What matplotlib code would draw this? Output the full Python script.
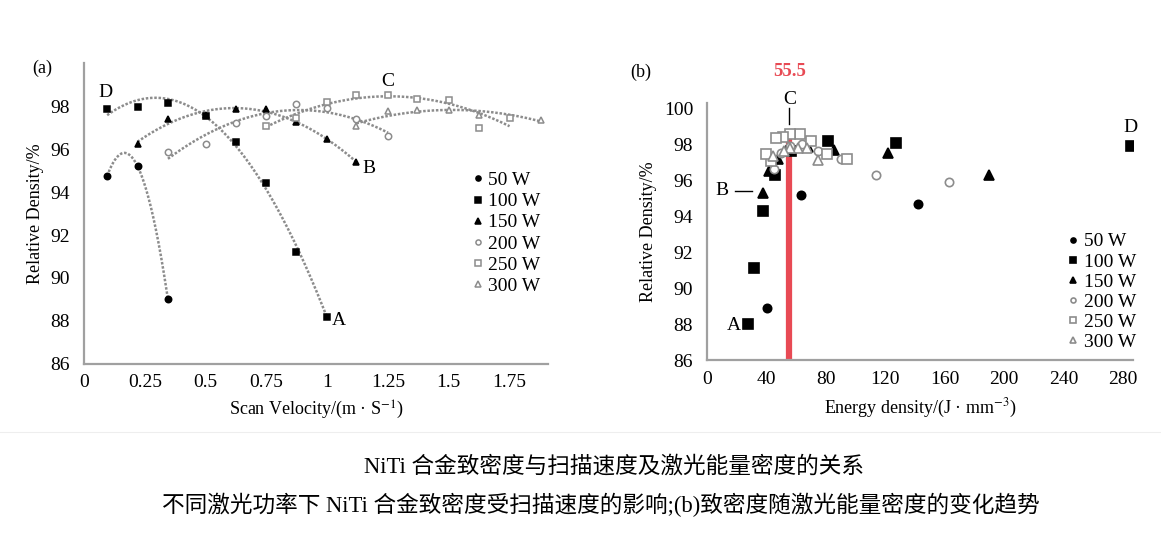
import numpy as np
import matplotlib
matplotlib.use("Agg")
import matplotlib.pyplot as plt
from matplotlib.lines import Line2D

plt.rcParams['font.family'] = ['Liberation Serif', 'Noto Sans CJK SC']
plt.rcParams['mathtext.fontset'] = 'stix'

# (a) relative density vs scan velocity
v_50 = [0.095, 0.22, 0.345]
rd_50 = [94.75, 95.2, 89.0]
v_100 = [0.095, 0.22, 0.345, 0.5, 0.625, 0.75, 0.87, 1.0]
rd_100 = [97.85, 97.95, 98.15, 97.55, 96.35, 94.4, 91.2, 88.2]
v_150 = [0.22, 0.345, 0.5, 0.625, 0.75, 0.87, 1.0, 1.12]
rd_150 = [96.25, 97.4, 97.6, 97.85, 97.85, 97.25, 96.45, 95.4]
v_200 = [0.345, 0.5, 0.625, 0.75, 0.87, 1.0, 1.12, 1.25]
rd_200 = [95.85, 96.25, 97.2, 97.55, 98.1, 97.9, 97.4, 96.6]
v_250 = [0.75, 0.87, 1.0, 1.12, 1.25, 1.37, 1.5, 1.625, 1.75]
rd_250 = [97.05, 97.45, 98.2, 98.5, 98.5, 98.35, 98.3, 97.0, 97.45]
v_300 = [1.12, 1.25, 1.37, 1.5, 1.625, 1.88]
rd_300 = [97.05, 97.75, 97.8, 97.8, 97.6, 97.35]

# (b) relative density vs energy density
e_50 = [142, 63, 40.5]
d_50 = [94.7, 95.2, 88.9]
e_100 = [285.5, 127, 81.5, 56.5, 45.5, 37.7, 31.6, 27.6]
d_100 = [97.9, 98.05, 98.2, 97.6, 96.3, 94.3, 91.1, 88.0]
e_150 = [190, 122, 85.5, 68, 56, 48, 41.5, 37.7]
d_150 = [96.3, 97.5, 97.7, 97.85, 97.8, 97.2, 96.5, 95.3]
e_200 = [163, 114, 90, 75, 64, 56, 50, 45]
d_200 = [95.9, 96.3, 97.2, 97.6, 98.0, 97.9, 97.5, 96.6]
e_250 = [94, 80.5, 70, 62.5, 56, 51, 46.5, 43, 40]
d_250 = [97.15, 97.45, 98.2, 98.55, 98.55, 98.4, 98.35, 97.05, 97.45]
e_300 = [75, 67, 61, 56, 52, 44.5]
d_300 = [97.1, 97.8, 97.8, 97.8, 97.6, 97.35]

labels = ['50 W', '100 W', '150 W', '200 W', '250 W', '300 W']
e_opt = 55.5

GREY = '#8c8c8c'
RED = '#e84a54'
# marker, face, edge
styles = [('o', 'black', 'black'), ('s', 'black', 'black'), ('^', 'black', 'black'),
          ('o', 'white', GREY), ('s', 'white', GREY), ('^', 'white', GREY)]

fig = plt.figure(figsize=(11.61, 5.44), dpi=100)
ax1 = fig.add_axes([0.0724, 0.331, 0.4, 0.553])
ax2 = fig.add_axes([0.609, 0.338, 0.367, 0.473])

for ax in (ax1, ax2):
    for s in ['top', 'right']:
        ax.spines[s].set_visible(False)
    for s in ['left', 'bottom']:
        ax.spines[s].set_color('#a0a0a0')
        ax.spines[s].set_linewidth(1.6)
    ax.tick_params(length=0, labelsize=14)

# ---- panel (a)
series_a = [(v_50, rd_50), (v_100, rd_100), (v_150, rd_150),
            (v_200, rd_200), (v_250, rd_250), (v_300, rd_300)]
for (x, y), (m, fc, ec), lab in zip(series_a, styles, labels):
    # order-2 polynomial trendline through the points
    coef = np.polyfit(x, y, 2)
    xs = np.linspace(min(x), max(x), 200)
    ax1.plot(xs, np.polyval(coef, xs), color=GREY, lw=1.8, ls=(0, (1, 0.7)), zorder=2)
    ms = 4.6 if m == 'o' else 5
    ax1.plot(x, y, ls='none', marker=m, ms=ms, mfc=fc, mec=ec, mew=1.1, zorder=3, label=lab)

ax1.set_xlim(0, 1.91)
ax1.set_ylim(86, 100)
ax1.set_yticks([86, 88, 90, 92, 94, 96, 98])
ax1.set_xticks([0, 0.25, 0.5, 0.75, 1, 1.25, 1.5, 1.75])
ax1.set_xticklabels(['0', '0.25', '0.5', '0.75', '1', '1.25', '1.5', '1.75'])
ax1.tick_params(axis='x', pad=7)
ax1.tick_params(axis='y', pad=10)
ax1.set_xlabel('Scan Velocity/(m · S$^{-1}$)', fontsize=13, labelpad=6)
ax1.set_ylabel('Relative Density/%', fontsize=13, labelpad=5)
ax1.legend(loc='upper left', bbox_to_anchor=(0.82, 0.665), frameon=False, fontsize=14,
           handlelength=0.5, handletextpad=0.3, labelspacing=0.18, borderaxespad=0, markerscale=0.8)

ax1.text(0.086, 98.65, 'D', fontsize=14, ha='center', va='center')
ax1.text(1.25, 99.15, 'C', fontsize=14, ha='center', va='center')
ax1.text(1.17, 95.1, 'B', fontsize=14, ha='center', va='center')
ax1.text(1.05, 88.0, 'A', fontsize=14, ha='center', va='center')
fig.text(42 / 1161, 1 - 68 / 544, '(a)', fontsize=13, ha='center', va='center')

# ---- panel (b)
series_b = [(e_50, d_50), (e_100, d_100), (e_150, d_150),
            (e_200, d_200), (e_250, d_250), (e_300, d_300)]
ax2.plot([e_opt, e_opt], [86, 98.7], color=RED, lw=4.5, solid_capstyle='butt', zorder=2)
for (x, y), (m, fc, ec), lab in zip(series_b, styles, labels):
    ms = 6 if m == 'o' else 6.5
    ax2.plot(x, y, ls='none', marker=m, ms=ms, mfc=fc, mec=ec, mew=1.2, zorder=3, label=lab)

ax2.set_xlim(0, 287)
ax2.set_ylim(86, 100.3)
ax2.set_yticks([86, 88, 90, 92, 94, 96, 98, 100])
ax2.set_xticks([0, 40, 80, 120, 160, 200, 240, 280])
ax2.tick_params(axis='x', pad=8)
ax2.tick_params(axis='y', pad=10)
ax2.set_xlabel('Energy density/(J · mm$^{-3}$)', fontsize=13, labelpad=6)
ax2.set_ylabel('Relative Density/%', fontsize=13, labelpad=5)
ax2.legend(loc='upper left', bbox_to_anchor=(0.83, 0.525), frameon=False, fontsize=14,
           handlelength=0.5, handletextpad=0.3, labelspacing=0.13, borderaxespad=0, markerscale=0.6)

ax2.text(285.5, 98.95, 'D', fontsize=14, ha='center', va='center')
ax2.text(e_opt, 100.5, 'C', fontsize=14, ha='center', va='center', clip_on=False)
ax2.plot([e_opt, e_opt], [99.1, 100.0], color='black', lw=1, clip_on=False)
ax2.text(10.1, 95.45, 'B', fontsize=14, ha='center', va='center')
ax2.plot([18.9, 30.3], [95.4, 95.4], color='black', lw=1)
ax2.text(18.2, 87.95, 'A', fontsize=14, ha='center', va='center')
ax2.text(e_opt, 102.05, '55.5', fontsize=13.5, color=RED, fontweight='bold',
         ha='center', va='center', clip_on=False)
fig.text(641 / 1161, 1 - 72 / 544, '(b)', fontsize=13, ha='center', va='center')

# caption
fig.add_artist(Line2D([0, 1], [1 - 432 / 544] * 2, color='#eeeeee', lw=0.8))
fig.text(614 / 1161, 1 - 467 / 544, 'NiTi 合金致密度与扫描速度及激光能量密度的关系',
         fontsize=16.3, ha='center', va='center')
fig.text(601 / 1161, 1 - 505 / 544,
         '不同激光功率下 NiTi 合金致密度受扫描速度的影响;(b)致密度随激光能量密度的变化趋势',
         fontsize=16.3, ha='center', va='center')

fig.savefig('out.png', dpi=100, facecolor='white')
